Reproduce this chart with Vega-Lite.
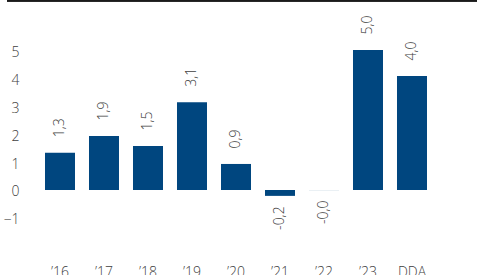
{
  "$schema": "https://vega.github.io/schema/vega-lite/v6.json",
  "width": 470,
  "height": 250,
  "autosize": "none",
  "padding": {"left": 7, "top": 0, "right": 1, "bottom": 25},
  "config": {
    "view": {"stroke": null},
    "font": "Open Sans",
    "axis": {"labelFont": "Open Sans", "labelColor": "#404040", "labelFontSize": 14, "labelFontWeight": 300}
  },
  "data": {
    "values": [
      {"year": "’16", "value": 1.33, "label": "1,3"},
      {"year": "’17", "value": 1.93, "label": "1,9"},
      {"year": "’18", "value": 1.57, "label": "1,5"},
      {"year": "’19", "value": 3.13, "label": "3,1"},
      {"year": "’20", "value": 0.93, "label": "0,9"},
      {"year": "’21", "value": -0.21, "label": "-0,2"},
      {"year": "’22", "value": -0.003, "label": "-0,0"},
      {"year": "’23", "value": 5.0, "label": "5,0"},
      {"year": "DDA", "value": 4.07, "label": "4,0"}
    ]
  },
  "layer": [
    {
      "mark": {"type": "bar", "color": "#00467F"},
      "encoding": {
        "x": {
          "field": "year", "type": "nominal", "sort": null, "title": null,
          "scale": {"paddingInner": 0.31818, "paddingOuter": 1.0, "align": 0.4318},
          "axis": {"domain": false, "ticks": false, "labelAngle": 0, "labelPadding": 15, "grid": false}
        },
        "y": {
          "field": "value", "type": "quantitative", "title": null,
          "scale": {"domain": [-2.143, 6.786], "nice": false, "zero": false},
          "axis": {"values": [-1, 0, 1, 2, 3, 4, 5], "domain": false, "ticks": false, "grid": false, "offset": -12, "labelPadding": 0, "labelOffset": 2}
        }
      }
    },
    {
      "transform": [{"filter": "datum.value >= 0"}],
      "mark": {"type": "text", "angle": 270, "align": "left", "baseline": "middle", "dx": 15.5, "fontSize": 14, "fontWeight": 300, "color": "#404040"},
      "encoding": {
        "x": {"field": "year", "type": "nominal", "sort": null},
        "y": {"field": "value", "type": "quantitative"},
        "text": {"field": "label"}
      }
    },
    {
      "transform": [{"filter": "datum.value < 0"}],
      "mark": {"type": "text", "angle": 270, "align": "right", "baseline": "middle", "dx": -10.5, "fontSize": 14, "fontWeight": 300, "color": "#404040"},
      "encoding": {
        "x": {"field": "year", "type": "nominal", "sort": null},
        "y": {"field": "value", "type": "quantitative"},
        "text": {"field": "label"}
      }
    },
    {
      "mark": {"type": "rule", "color": "#1a1a1a", "strokeWidth": 2.6},
      "encoding": {"y": {"datum": 6.786}}
    }
  ]
}
